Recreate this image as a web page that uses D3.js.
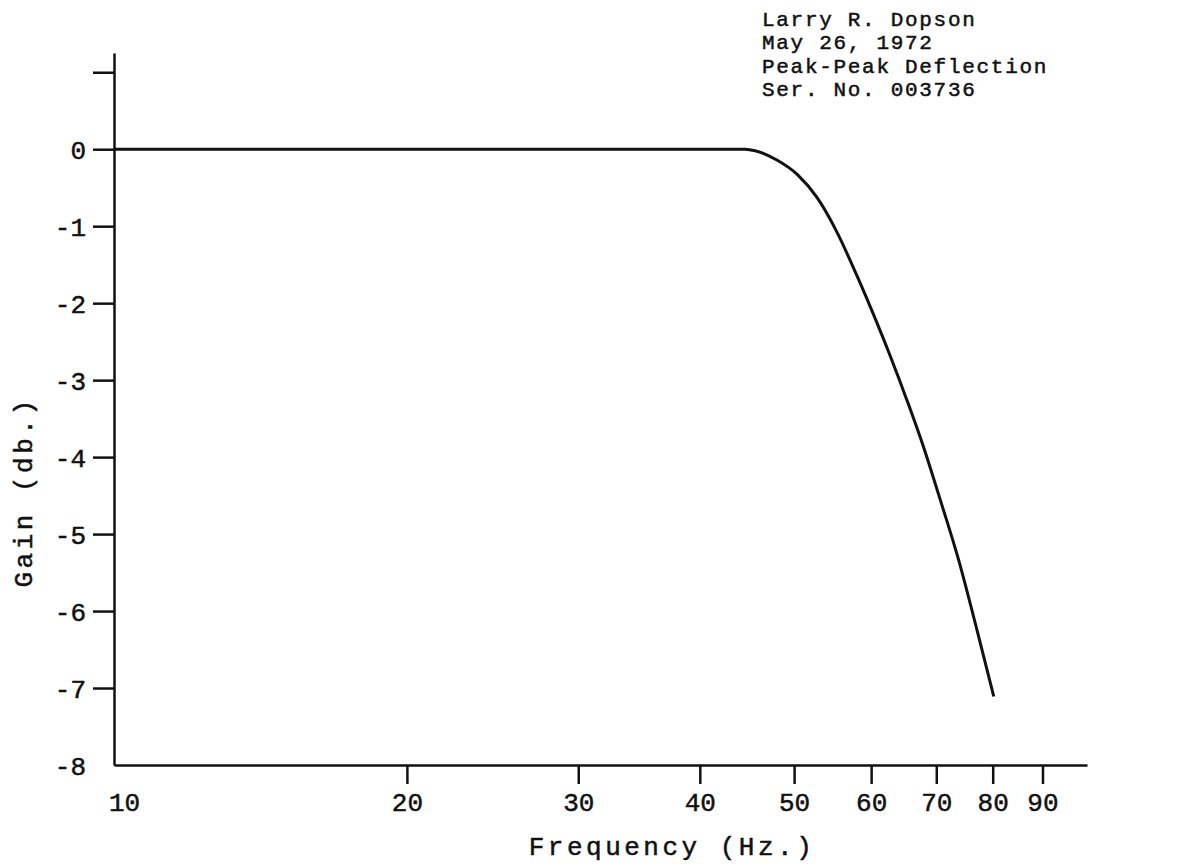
<!DOCTYPE html>
<html>
<head>
<meta charset="utf-8">
<script src="https://cdn.jsdelivr.net/npm/d3@7"></script>
<style>
  body { margin: 0; background: #fff; }
  svg { display: block; }
  text { font-family: "Liberation Mono", "DejaVu Sans Mono", monospace; fill: #111; stroke: #111; stroke-width: 0.5px; }
</style>
</head>
<body>
<svg id="chart" width="1183" height="867"></svg>
<script>
var freq = [10, 20, 30, 40, 44.5, 45.6, 48.0, 50.4, 52.8, 55.3, 58.0, 60.3, 62.7, 65.3, 67.8, 70.6, 73.7, 77.2, 80.2];
var gain = [0, 0, 0, 0, 0, -0.02, -0.14, -0.33, -0.63, -1.07, -1.64, -2.14, -2.67, -3.26, -3.84, -4.54, -5.31, -6.28, -7.11];

var xTicks = [10, 20, 30, 40, 50, 60, 70, 80, 90];
var yTicks = [1, 0, -1, -2, -3, -4, -5, -6, -7, -8];
var header = ["Larry R. Dopson", "May 26, 1972", "Peak-Peak Deflection", "Ser. No. 003736"];

var svg = d3.select("#chart");

var x = d3.scaleLog().domain([10, 100]).range([114, 1087]);
var y = d3.scaleLinear().domain([-8, 1.25]).range([765, 53]);

// y axis
var yAxis = d3.axisLeft(y)
    .tickValues(yTicks)
    .tickSize(21)
    .tickSizeOuter(0)
    .tickPadding(7)
    .tickFormat(d => d === 1 ? "" : String(d));

var gy = svg.append("g").attr("transform", "translate(" + x(10) + ",0)").call(yAxis);
gy.selectAll("text").style("font-size", "26px").attr("dy", "0.36em");
gy.selectAll(".tick").filter(d => d === -8).select("line").remove();

// x axis
var xAxis = d3.axisBottom(x)
    .tickValues(xTicks)
    .tickSize(19)
    .tickSizeOuter(0)
    .tickPadding(4)
    .tickFormat(d => String(d));

var gx = svg.append("g").attr("transform", "translate(0," + y(-8) + ")").call(xAxis);
gx.selectAll("text").style("font-size", "26px").attr("dy", "0.9em");
gx.selectAll(".tick").filter(d => d === 10).select("line").remove();
gx.selectAll(".tick").filter(d => d === 10).select("text").attr("dx", 10);

svg.selectAll(".domain, .tick line")
    .attr("stroke", "#111")
    .attr("stroke-width", 2.5);

// curve
var pts = freq.map((f, i) => [f, gain[i]]);
var line = d3.line()
    .x(d => x(d[0]))
    .y(d => y(d[1]))
    .curve(d3.curveMonotoneX);

svg.append("path")
    .datum(pts)
    .attr("fill", "none")
    .attr("stroke", "#111")
    .attr("stroke-width", 3)
    .attr("d", line);

// axis titles
svg.append("text")
    .attr("x", 672).attr("y", 855)
    .attr("text-anchor", "middle")
    .style("font-size", "26px")
    .style("letter-spacing", "3.5px")
    .text("Frequency (Hz.)");

svg.append("text")
    .attr("transform", "translate(32,492) rotate(-90)")
    .attr("text-anchor", "middle")
    .style("font-size", "26px")
    .style("letter-spacing", "3.5px")
    .text("Gain (db.)");

// header block
svg.append("g").selectAll("text")
    .data(header)
    .join("text")
    .attr("x", 762)
    .attr("y", (d, i) => 26 + i * 23.3)
    .style("font-size", "21px")
    .style("letter-spacing", "1.7px")
    .text(d => d);
</script>
</body>
</html>
